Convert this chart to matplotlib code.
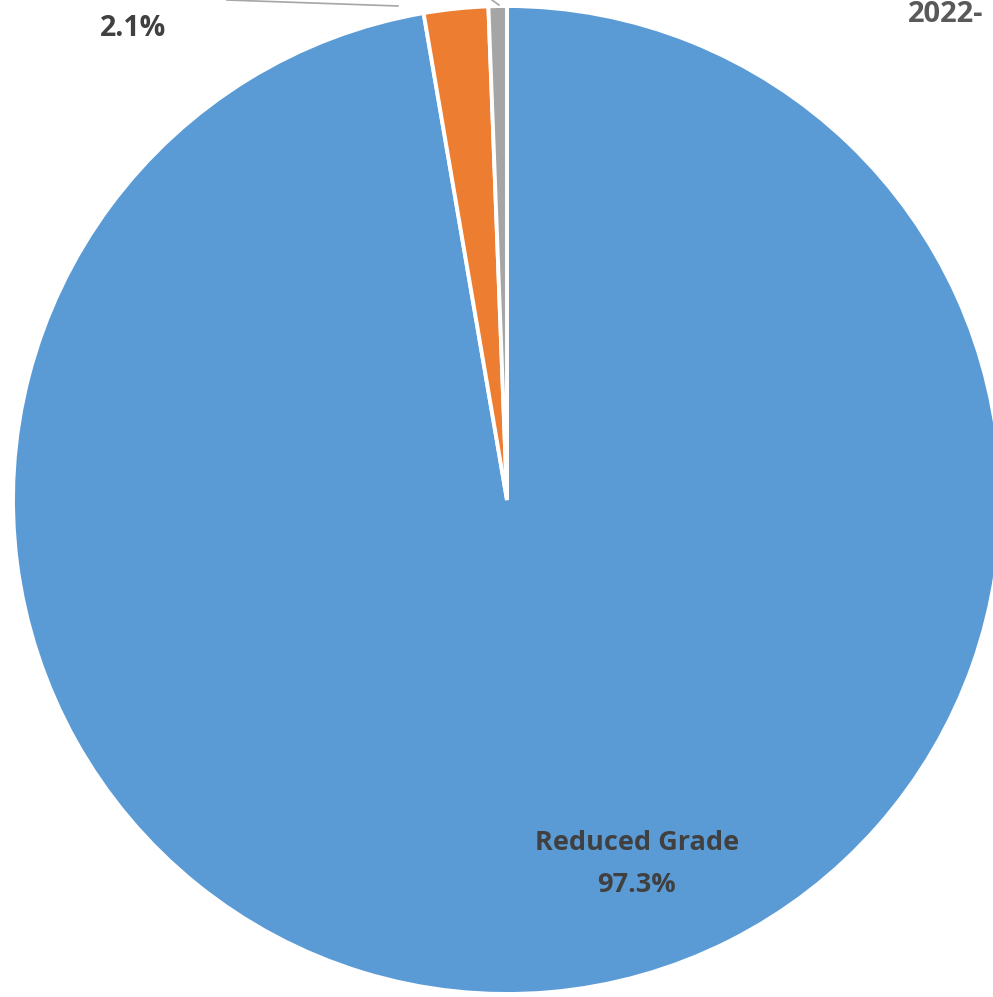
import matplotlib
matplotlib.use("Agg")
import matplotlib.pyplot as plt

categories = ["Reduced Grade", "Other", "2022-"]
values = [97.3, 2.1, 0.6]
pct_labels = ["97.3%", "2.1%", "0.6%"]
colors = ["#5B9BD5", "#ED7D31", "#A5A5A5"]

W, H = 993, 997
CX, CY, R = 507, 500, 494

def px(x, y):
    return ((x - CX) / R, (CY - y) / R)

fig = plt.figure(figsize=(W / 100, H / 100), dpi=100)
ax = fig.add_axes([0, 0, 1, 1])
ax.pie(values, colors=colors, startangle=90, counterclock=False, radius=1,
       wedgeprops=dict(edgecolor="white", linewidth=2.8))
x0, y0 = px(0, 0)
x1, y1 = px(W, H)
ax.set_xlim(x0, x1)
ax.set_ylim(y1, y0)
ax.set_aspect("auto")
ax.axis("off")

font = "Open Sans"
tc = "#404040"
fs = 19.5
# Blue label inside
ax.text(*px(637, 843), categories[0], ha="center", va="center", fontsize=fs,
        fontweight="bold", color=tc, family=font)
ax.text(*px(637, 885), pct_labels[0], ha="center", va="center", fontsize=fs,
        fontweight="bold", color=tc, family=font)
# Orange label (name cut off above figure)
ax.text(*px(133, 28), pct_labels[1], ha="center", va="center", fontsize=20.5,
        fontweight="bold", color=tc, family=font)
# Gray label (cut off at right in the original)
ax.text(*px(908, 22), categories[2], ha="left", va="baseline", fontsize=21,
        fontweight="bold", color="#595959", family=font)

# leader lines
lx, ly = zip(px(227, 0), px(398, 6))
ax.plot(lx, ly, color="#A6A6A6", lw=1.2)
lx, ly = zip(px(492, 0), px(499, 5))
ax.plot(lx, ly, color="#A6A6A6", lw=1.2)

fig.savefig("out.png", dpi=100)
